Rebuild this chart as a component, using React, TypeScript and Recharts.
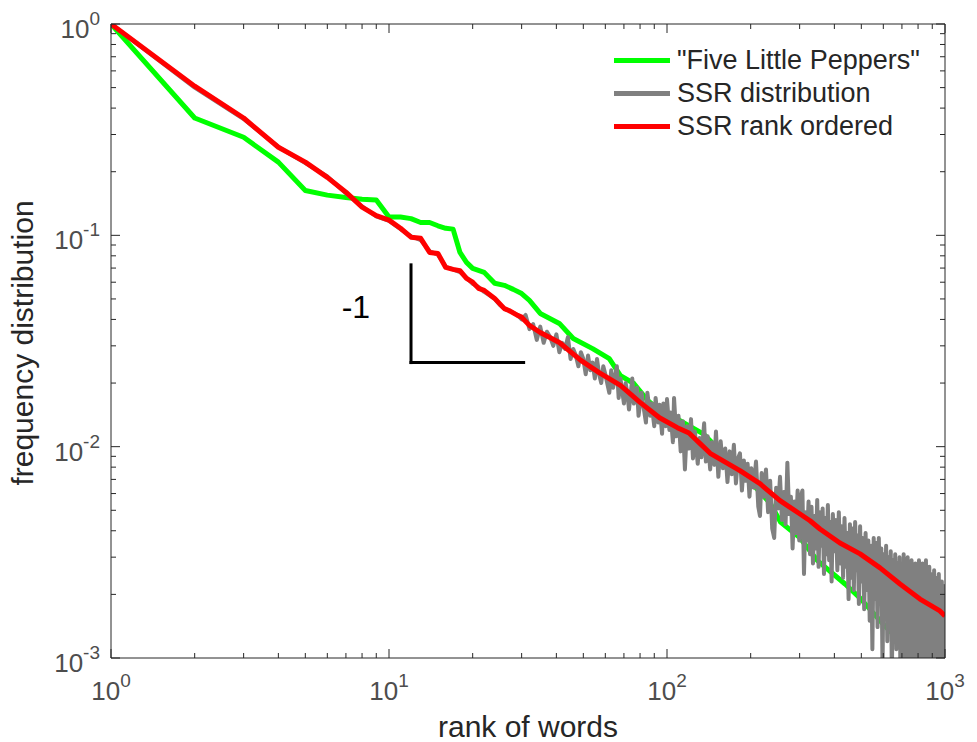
import React from 'react';
import { LineChart, Line, XAxis, YAxis, Legend, ReferenceLine, ReferenceDot } from 'recharts';

const FONT = '"Liberation Sans", Arial, Helvetica, sans-serif';

// word rank vs. frequency
const peppers = [
  [1, 1.0], [2, 0.359], [3, 0.291], [4, 0.222], [5, 0.163], [6, 0.155], [7, 0.151], [8, 0.148],
  [9, 0.147], [10, 0.122], [11, 0.122], [12, 0.12], [13, 0.115], [14, 0.115], [15, 0.111],
  [16, 0.108], [17, 0.107], [18, 0.083], [19, 0.0745], [20, 0.0698], [22, 0.0668], [24, 0.0593],
  [26, 0.058], [28, 0.0555], [30, 0.053], [32, 0.0492], [35, 0.0427], [41, 0.0383], [46, 0.0325],
  [54, 0.0291], [62, 0.0261], [68, 0.0217], [76, 0.0199], [85, 0.0166], [94, 0.0148],
  [109, 0.0136], [111, 0.0133], [135, 0.0115], [164, 0.0089], [200, 0.0068], [235, 0.0054],
  [256, 0.0044], [301, 0.0037], [347, 0.0029], [437, 0.00224], [495, 0.00192], [598, 0.00145],
  [700, 0.00118], [794, 0.00104], [830, 0.00095],
];

const ssrRanked = [
  [1, 1.0], [2, 0.508], [3, 0.359], [4, 0.261], [5, 0.222], [6, 0.188], [7, 0.16], [8, 0.136],
  [9, 0.124], [10, 0.118], [11, 0.108], [12, 0.098], [13, 0.0968], [14, 0.083], [15, 0.082],
  [16, 0.0705], [17, 0.069], [18, 0.068], [19, 0.0625], [20, 0.06], [21, 0.0561], [22, 0.0549],
  [24, 0.0503], [26, 0.045], [27, 0.0441], [29, 0.0418], [30, 0.041], [32, 0.0375], [35, 0.0347],
  [41, 0.0311], [49, 0.0256], [57, 0.0224], [68, 0.0195], [80, 0.0162], [94, 0.0137],
  [109, 0.0123], [120, 0.0116], [131, 0.0104], [143, 0.0093], [183, 0.0077], [216, 0.00668],
  [255, 0.00555], [301, 0.0048], [327, 0.00446], [355, 0.00408], [419, 0.0035], [495, 0.00311],
  [584, 0.00267], [689, 0.00224], [813, 0.0019], [959, 0.00167], [1000, 0.00158],
];

const ssrDist = [
  [1, 1.0], [2, 0.5], [3, 0.355], [4, 0.262], [5, 0.22], [6, 0.19], [7, 0.158], [8, 0.137],
  [9, 0.123], [10, 0.117], [11, 0.107], [12, 0.099], [13, 0.095], [14, 0.084], [15, 0.081],
  [16, 0.071], [17, 0.069], [18, 0.067], [19, 0.063], [20, 0.059], [21, 0.057], [22, 0.054],
  [23, 0.052], [24, 0.05], [25, 0.047], [26, 0.045], [27, 0.044], [28, 0.043], [29, 0.042],
  [30, 0.040], [31, 0.042], [32, 0.036], [33, 0.038], [34, 0.032], [35, 0.037], [36, 0.031],
  [37, 0.035], [38, 0.033], [39, 0.030], [40, 0.034], [41, 0.028], [42, 0.031], [43, 0.029],
  [44, 0.033], [45, 0.026], [46, 0.029], [47, 0.027], [48, 0.024], [49, 0.028], [50, 0.026],
  [51, 0.022], [52, 0.027], [53, 0.023], [54, 0.025], [55, 0.021], [56, 0.026], [57, 0.022],
  [58, 0.020], [59, 0.024], [60, 0.022], [62, 0.018], [63, 0.023], [64, 0.019], [66, 0.024],
  [67, 0.017], [68, 0.021], [70, 0.016], [71, 0.020], [72, 0.018], [73, 0.015], [75, 0.021],
  [76, 0.016], [78, 0.019], [79, 0.014], [81, 0.018], [82, 0.016], [84, 0.013], [85, 0.018],
  [87, 0.014], [88, 0.016], [90, 0.0125], [91, 0.017], [93, 0.013], [94, 0.0158], [96, 0.0115],
  [97, 0.016], [99, 0.0125], [100, 0.0168], [102, 0.012], [103, 0.0145], [105, 0.0105],
  [106, 0.017], [108, 0.0112], [110, 0.014], [112, 0.0095], [114, 0.0132], [116, 0.0078],
  [118, 0.0125], [120, 0.0098], [122, 0.0135], [124, 0.0088], [126, 0.0118], [129, 0.0083],
  [131, 0.011], [133, 0.0089], [136, 0.0129], [138, 0.0085], [140, 0.0112], [143, 0.0078],
  [145, 0.0105], [148, 0.0082], [150, 0.0118], [153, 0.0072], [156, 0.0106], [159, 0.0079],
  [162, 0.0098], [165, 0.0068], [168, 0.0095], [171, 0.0074], [174, 0.0102], [177, 0.0067],
  [180, 0.0088], [183, 0.0093], [186, 0.0062], [189, 0.0086], [192, 0.0069], [195, 0.0083],
  [198, 0.0058], [201, 0.0079], [205, 0.0064], [209, 0.0085], [213, 0.0052], [216, 0.0047],
  [219, 0.0075], [223, 0.0058], [227, 0.0078], [231, 0.0049], [235, 0.0069], [239, 0.0041],
  [243, 0.0037], [247, 0.0064], [251, 0.0051], [255, 0.0072], [259, 0.0045], [263, 0.0061],
  [267, 0.0043], [271, 0.0084], [275, 0.0048], [279, 0.0058], [283, 0.0033], [287, 0.0055],
  [291, 0.0039], [295, 0.0062], [299, 0.0036], [303, 0.0058], [307, 0.0062], [311, 0.0025],
  [315, 0.0049], [319, 0.0036], [323, 0.0055], [327, 0.0031], [331, 0.0052], [335, 0.0028],
  [339, 0.0047], [343, 0.0033], [347, 0.0056], [351, 0.0027], [355, 0.0049], [359, 0.0034],
  [363, 0.0051], [367, 0.0025], [371, 0.0046], [375, 0.0031], [379, 0.0053], [383, 0.0029],
  [387, 0.0044], [391, 0.0023], [395, 0.0048], [400, 0.0032], [405, 0.0045], [410, 0.0026],
  [415, 0.0049], [420, 0.0028], [425, 0.0042], [430, 0.0024], [435, 0.0046], [440, 0.0027],
  [445, 0.0039], [450, 0.0019], [455, 0.0043], [460, 0.0024], [465, 0.0041], [470, 0.0021],
  [475, 0.0044], [480, 0.0026], [485, 0.0038], [490, 0.0018], [495, 0.0042], [500, 0.0023],
  [506, 0.0037], [512, 0.0017], [518, 0.0039], [524, 0.0021], [530, 0.0036], [536, 0.0015],
  [542, 0.0034], [548, 0.0011], [554, 0.0037], [560, 0.0019], [566, 0.0035], [572, 0.0014],
  [578, 0.0037], [584, 0.0018], [590, 0.0033], [596, 0.0009], [602, 0.0031], [608, 0.0016],
  [614, 0.0034], [620, 0.0012], [626, 0.0030], [632, 0.0017], [638, 0.0032], [644, 0.0008],
  [650, 0.0029], [656, 0.0014], [662, 0.0031], [668, 0.0011], [674, 0.0028], [680, 0.0016],
  [686, 0.0030], [692, 0.0007], [698, 0.0027], [704, 0.0013], [710, 0.0031], [716, 0.0010],
  [722, 0.0026], [728, 0.0015], [734, 0.0030], [740, 0.0008], [746, 0.0027], [752, 0.0012],
  [758, 0.0029], [764, 0.0009], [770, 0.0025], [776, 0.0014], [782, 0.0028], [788, 0.0007],
  [794, 0.0026], [800, 0.0011], [806, 0.0029], [812, 0.0009], [818, 0.0024], [824, 0.0013],
  [830, 0.0028], [836, 0.0006], [842, 0.0025], [848, 0.0010], [854, 0.0029], [860, 0.0008],
  [866, 0.0024], [872, 0.0012], [878, 0.0027], [884, 0.0006], [890, 0.0025], [896, 0.0010],
  [902, 0.0023], [908, 0.0007], [914, 0.0026], [920, 0.0011], [926, 0.0022], [932, 0.0006],
  [938, 0.0024], [944, 0.0009], [950, 0.0025], [956, 0.0007], [962, 0.0021], [968, 0.0010],
  [974, 0.0023], [980, 0.0006], [986, 0.0022], [992, 0.0008], [998, 0.0020], [1000, 0.0012],
];

const xDecades = [1, 10, 100, 1000];
const yDecades = [0.001, 0.01, 0.1, 1];
const minorSteps = [2, 3, 4, 5, 6, 7, 8, 9];

const series = [
  { key: 'peppers', name: '"Five Little Peppers"', color: '#00ff00', width: 5, data: peppers },
  { key: 'dist', name: 'SSR distribution', color: '#808080', width: 4, data: ssrDist },
  { key: 'ranked', name: 'SSR rank ordered', color: '#ff0000', width: 5, data: ssrRanked },
];

const toRows = (pairs) => pairs.map(([rank, freq]) => ({ rank, freq }));

const logTicks = (decades) => {
  const out = [];
  decades.forEach((d, i) => {
    out.push(d);
    if (i < decades.length - 1) minorSteps.forEach((m) => out.push(+(d * m).toPrecision(6)));
  });
  return out;
};

const xTicks = logTicks(xDecades);
const yTicks = logTicks(yDecades);

function LogTick(props) {
  const { x, y, payload, side } = props;
  const lg = Math.log10(payload.value);
  const exp = Math.round(lg);
  const major = Math.abs(lg - exp) < 1e-6;
  const len = major ? 9 : 5;
  const stroke = '#262626';
  let line;
  if (side === 'bottom') line = <line x1={x} y1={y} x2={x} y2={y - len} stroke={stroke} />;
  else if (side === 'top') line = <line x1={x} y1={y} x2={x} y2={y + len} stroke={stroke} />;
  else if (side === 'left') line = <line x1={x} y1={y} x2={x + len} y2={y} stroke={stroke} />;
  else line = <line x1={x} y1={y} x2={x - len} y2={y} stroke={stroke} />;

  let label = null;
  if (major && (side === 'bottom' || side === 'left')) {
    const tx = side === 'bottom' ? x : x - 11;
    const ty = side === 'bottom' ? y + 42 : y + 14;
    label = (
      <text x={tx} y={ty} textAnchor={side === 'bottom' ? 'middle' : 'end'} fill="#4d4d4d" fontFamily={FONT} fontSize={26}>
        <tspan>10</tspan>
        <tspan dy={-13} fontSize={19}>{String(exp)}</tspan>
      </text>
    );
  }
  return (
    <g>
      {line}
      {label}
    </g>
  );
}

const XTitle = () => (
  <text x={528} y={737} textAnchor="middle" fill="#262626" fontFamily={FONT} fontSize={30}>
    rank of words
  </text>
);

const YTitle = () => (
  <text x={33} y={343} transform="rotate(-90 33 343)" textAnchor="middle" fill="#262626" fontFamily={FONT} fontSize={30}>
    frequency distribution
  </text>
);

function LegendBox() {
  return (
    <div style={{ fontFamily: FONT, fontSize: 27, color: '#262626' }}>
      {series.map((s) => (
        <div key={s.key} style={{ display: 'flex', alignItems: 'center', height: 33, whiteSpace: 'nowrap' }}>
          <div style={{ width: 56, height: 5, background: s.color, marginRight: 7 }} />
          <span>{s.name}</span>
        </div>
      ))}
    </div>
  );
}

export default function App() {
  const axisLine = { stroke: '#262626', strokeWidth: 1 };
  return (
    <div style={{ position: 'absolute', left: 0, top: 0, width: 977, height: 742, background: '#fff' }}>
      <LineChart width={977} height={742} margin={{ top: 23, right: 31, bottom: 0, left: 0 }}>
        <XAxis
          xAxisId="b"
          dataKey="rank"
          type="number"
          scale="log"
          domain={[1, 1000]}
          allowDataOverflow
          ticks={xTicks}
          interval={0}
          height={84}
          tickSize={0}
          tickMargin={0}
          axisLine={axisLine}
          tick={(p) => <LogTick {...p} side="bottom" />}
          label={XTitle}
        />
        <XAxis
          xAxisId="t"
          orientation="top"
          dataKey="rank"
          type="number"
          scale="log"
          domain={[1, 1000]}
          allowDataOverflow
          ticks={xTicks}
          interval={0}
          height={1}
          tickSize={0}
          tickMargin={0}
          axisLine={axisLine}
          tick={(p) => <LogTick {...p} side="top" />}
        />
        <YAxis
          yAxisId="l"
          type="number"
          scale="log"
          domain={[0.001, 1]}
          allowDataOverflow
          ticks={yTicks}
          interval={0}
          width={111}
          tickSize={0}
          tickMargin={0}
          axisLine={axisLine}
          tick={(p) => <LogTick {...p} side="left" />}
          label={YTitle}
        />
        <YAxis
          yAxisId="r"
          orientation="right"
          type="number"
          scale="log"
          domain={[0.001, 1]}
          allowDataOverflow
          ticks={yTicks}
          interval={0}
          width={1}
          tickSize={0}
          tickMargin={0}
          axisLine={axisLine}
          tick={(p) => <LogTick {...p} side="right" />}
        />
        {series.map((s) => (
          <Line
            key={s.key}
            xAxisId="b"
            yAxisId="l"
            data={toRows(s.data)}
            dataKey="freq"
            name={s.name}
            type="linear"
            stroke={s.color}
            strokeWidth={s.width}
            strokeLinejoin="round"
            dot={false}
            activeDot={false}
            isAnimationActive={false}
          />
        ))}
        <ReferenceLine
          xAxisId="b"
          yAxisId="l"
          segment={[{ x: 12, y: 0.0725 }, { x: 12, y: 0.025 }]}
          stroke="#000"
          strokeWidth={3}
          strokeLinecap="square"
        />
        <ReferenceLine
          xAxisId="b"
          yAxisId="l"
          segment={[{ x: 12, y: 0.025 }, { x: 30.5, y: 0.025 }]}
          stroke="#000"
          strokeWidth={3}
          strokeLinecap="square"
        />
        <ReferenceDot
          xAxisId="b"
          yAxisId="l"
          x={7.6}
          y={0.0458}
          r={1}
          fill="none"
          stroke="none"
          label={{ value: '-1', position: 'center', fontSize: 32, fill: '#000', fontFamily: FONT }}
        />
        <Legend
          layout="vertical"
          align="center"
          verticalAlign="middle"
          wrapperStyle={{ left: 614, top: 44, width: 330, height: 99 }}
          content={() => <LegendBox />}
        />
      </LineChart>
    </div>
  );
}
